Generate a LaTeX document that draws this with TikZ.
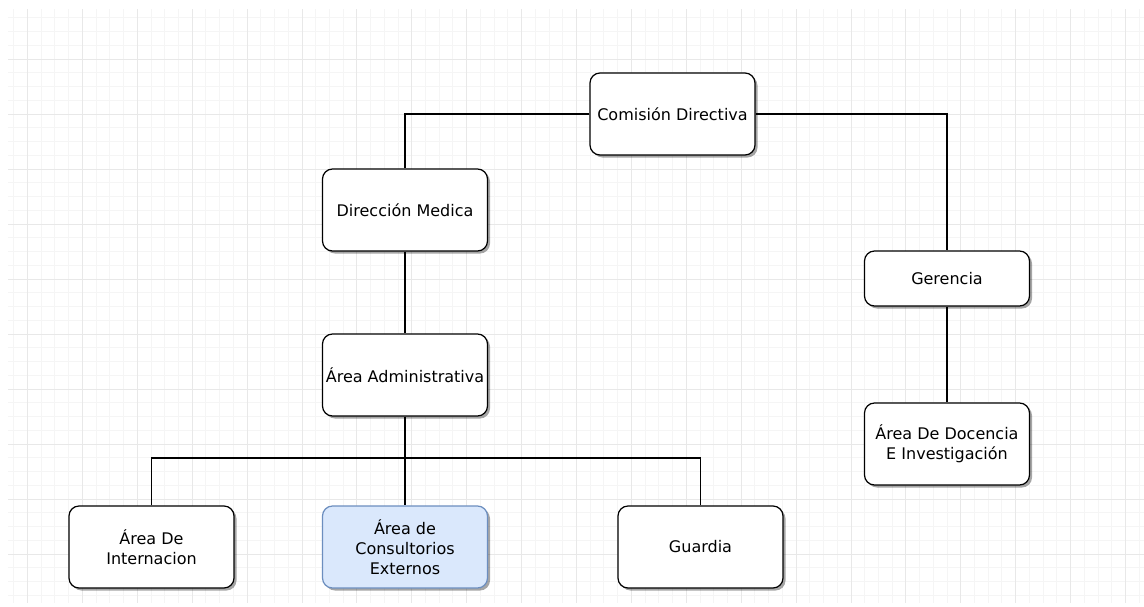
\documentclass[tikz,border=0pt]{standalone}
\usepackage{fontspec}
\setmainfont{DejaVu Sans}
\usetikzlibrary{shadows}
\definecolor{gridmajor}{HTML}{E8E8E8}
\definecolor{gridminor}{HTML}{F5F5F5}
\definecolor{bluefill}{HTML}{DAE8FC}
\definecolor{blueline}{HTML}{6C8EBF}
\tikzset{
  orgbox/.style={draw=black, fill=white, line width=1.2pt, rounded corners=10pt,
    minimum width=165pt, minimum height=82pt, align=center, text=black,
    font=\fontsize{16}{20}\selectfont, inner sep=0pt,
    drop shadow={shadow xshift=2.5pt, shadow yshift=-2.5pt, fill=black, opacity=0.35}},
  bluebox/.style={orgbox, fill=bluefill, draw=blueline},
  link/.style={draw=black, line width=1.3pt}
}
\begin{document}
\begin{tikzpicture}[x=1pt,y=-1pt]
\useasboundingbox (0,0) rectangle (1144,606);
\fill[white] (0,0) rectangle (1144,606);
\begin{scope}
\clip (8,9) rectangle (1144,603);
\foreach \k in {-1,...,82} {
  \pgfmathsetmacro{\xx}{27.5+13.725*\k}
  \draw[gridminor, line width=1pt] (\xx,9) -- (\xx,603);
}
\foreach \k in {-3,...,40} {
  \pgfmathsetmacro{\yy}{59+13.75*\k}
  \draw[gridminor, line width=1pt] (8,\yy) -- (1144,\yy);
}
\foreach \k in {0,...,20} {
  \pgfmathsetmacro{\xx}{27.5+54.9*\k}
  \draw[gridmajor, line width=1pt] (\xx,9) -- (\xx,603);
}
\foreach \k in {-1,...,10} {
  \pgfmathsetmacro{\yy}{59+55*\k}
  \draw[gridmajor, line width=1pt] (8,\yy) -- (1144,\yy);
}
\end{scope}

\coordinate (bus) at (405,458);
\path (672.5,114) coordinate (comc) (405,210) coordinate (dirc) (405,375) coordinate (admc)
      (947,278.5) coordinate (gerc) (947,444) coordinate (docc)
      (151.5,547) coordinate (intc) (405,547) coordinate (consc) (700.5,547) coordinate (guac);

\node[orgbox] (com) at (comc) {Comisión Directiva};
\node[orgbox] (dir) at (dirc) {Dirección Medica};
\node[orgbox] (adm) at (admc) {Área Administrativa};
\node[orgbox, minimum height=55pt] (ger) at (gerc) {Gerencia};
\node[orgbox] (doc) at (docc) {Área De Docencia\\E Investigación};
\node[orgbox] (int) at (intc) {Área De\\Internacion};
\node[bluebox] (cons) at (consc) {Área de\\Consultorios\\Externos};
\node[orgbox] (gua) at (guac) {Guardia};

\draw[link] (com.west) -| (dir.north);
\draw[link] (com.east) -| (ger.north);
\draw[link] (dir.south) -- (adm.north);
\draw[link] (ger.south) -- (doc.north);
\draw[link] (adm.south) -- (cons.north);
\draw[link] (int.north) |- (bus) -| (gua.north);
\end{tikzpicture}
\end{document}
